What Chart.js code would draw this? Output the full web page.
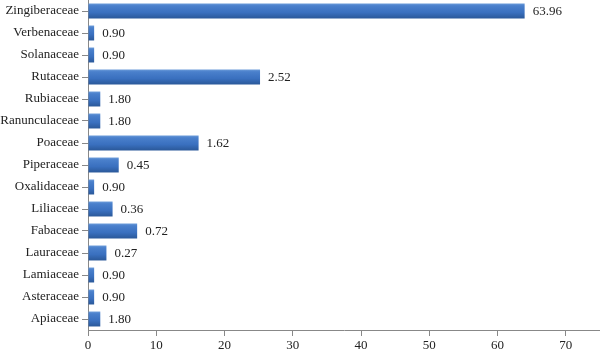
<!DOCTYPE html>
<html>
<head>
<meta charset="utf-8">
<script src="https://cdn.jsdelivr.net/npm/chart.js@4"></script>
<style>
html,body{margin:0;padding:0;background:#fff;}
#wrap{width:600px;height:355px;}
</style>
</head>
<body>
<div id="wrap"><canvas id="c" width="600" height="355"></canvas></div>
<script>
const categories = ['Zingiberaceae','Verbenaceae','Solanaceae','Rutaceae','Rubiaceae','Ranunculaceae','Poaceae','Piperaceae','Oxalidaceae','Liliaceae','Fabaceae','Lauraceae','Lamiaceae','Asteraceae','Apiaceae'];
const barValues = [63.96, 0.9, 0.9, 25.2, 1.8, 1.8, 16.2, 4.5, 0.9, 3.6, 7.2, 2.7, 0.9, 0.9, 1.8];
const valueLabels = ['63.96','0.90','0.90','2.52','1.80','1.80','1.62','0.45','0.90','0.36','0.72','0.27','0.90','0.90','1.80'];
const xTicks = [0,10,20,30,40,50,60,70];

const FONT = "'Liberation Serif', 'DejaVu Serif', serif";
const BAR_PCT = 0.68;

function barFill(context){
  const chart = context.chart;
  const ys = chart.scales && chart.scales.y;
  if (!ys || ys.top === undefined) return '#3a70bf';
  const cy = ys.getPixelForValue(context.dataIndex);
  const h = (ys.height / categories.length) * BAR_PCT;
  const g = chart.ctx.createLinearGradient(0, cy - h/2, 0, cy + h/2);
  g.addColorStop(0, '#6b9bd9');
  g.addColorStop(0.15, '#4a80cc');
  g.addColorStop(0.6, '#3a70bf');
  g.addColorStop(1, '#2a5899');
  return g;
}

const valueLabelPlugin = {
  id: 'valueLabels',
  afterDatasetsDraw(chart){
    const ctx = chart.ctx;
    const meta = chart.getDatasetMeta(0);
    ctx.save();
    ctx.font = "13px " + FONT;
    ctx.fillStyle = '#222';
    ctx.textAlign = 'left';
    ctx.textBaseline = 'middle';
    meta.data.forEach((el, i) => {
      ctx.fillText(valueLabels[i], el.x + 8, el.y + 1);
    });
    ctx.restore();
  }
};

new Chart(document.getElementById('c'), {
  type: 'bar',
  data: {
    labels: categories,
    datasets: [{
      data: barValues,
      backgroundColor: barFill,
      borderWidth: 0,
      barPercentage: BAR_PCT,
      categoryPercentage: 1.0
    }]
  },
  options: {
    indexAxis: 'y',
    responsive: false,
    animation: false,
    devicePixelRatio: 1,
    layout: { padding: { top: 0, right: 0, left: 0, bottom: 0 } },
    plugins: { legend: { display: false }, tooltip: { enabled: false } },
    scales: {
      x: {
        type: 'linear',
        min: 0,
        max: 75,
        afterBuildTicks(scale){ scale.ticks = xTicks.map(v => ({ value: v })); },
        afterFit(scale){ scale.height = 25; scale.paddingRight = 0; },
        ticks: {
          includeBounds: false,
          color: '#222',
          font: { family: FONT, size: 13 },
          padding: 2,
          maxRotation: 0
        },
        grid: { drawOnChartArea: false, drawTicks: true, tickLength: 6, color: '#888' },
        border: { display: true, color: '#888', width: 1 }
      },
      y: {
        type: 'category',
        afterFit(scale){ scale.width = 88; scale.paddingTop = 0; scale.paddingBottom = 0; },
        ticks: {
          color: '#222',
          font: { family: FONT, size: 13 },
          padding: 3,
          autoSkip: false
        },
        grid: { drawOnChartArea: false, drawTicks: true, tickLength: 6, color: '#888', offset: false },
        border: { display: true, color: '#888', width: 1 }
      }
    }
  },
  plugins: [valueLabelPlugin]
});
</script>
</body>
</html>
